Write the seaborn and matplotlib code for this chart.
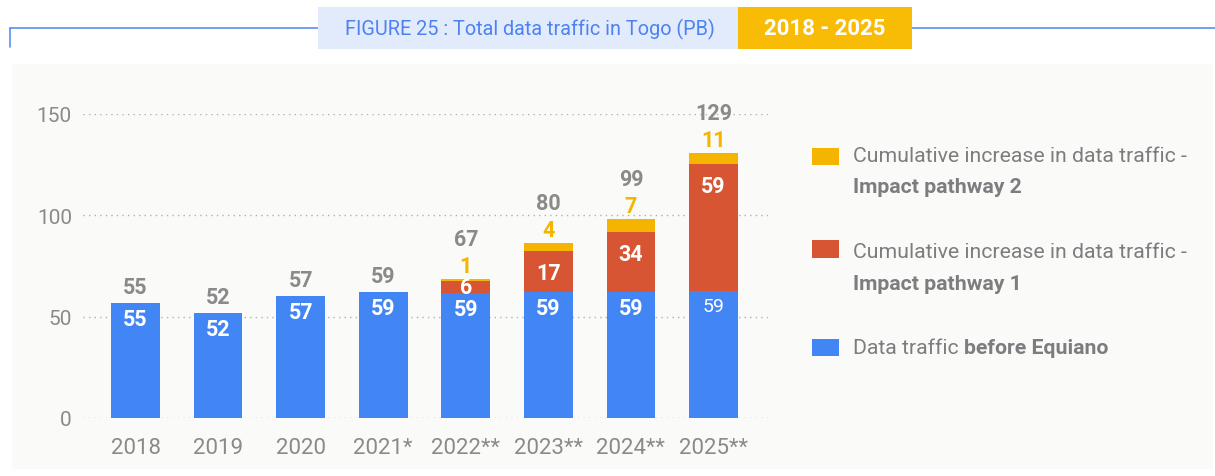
import matplotlib
matplotlib.use("Agg")
import matplotlib.pyplot as plt
import seaborn as sns
import pandas as pd
import numpy as np
from matplotlib.patches import Rectangle
from matplotlib.lines import Line2D

# ---------------- data ----------------
years = ["2018", "2019", "2020", "2021*", "2022**", "2023**", "2024**", "2025**"]
# segment heights as drawn
base_heights = [56.7, 51.8, 60.2, 62.2, 61.8, 62.2, 62.2, 62.8]
p1_heights = [0, 0, 0, 0, 5.8, 20.2, 29.6, 62.5]
p2_heights = [0, 0, 0, 0, 1.0, 3.9, 6.4, 5.4]
# printed value labels
base_labels = [55, 52, 57, 59, 59, 59, 59, 59]
p1_labels = [None, None, None, None, 6, 17, 34, 59]
p2_labels = [None, None, None, None, 1, 4, 7, 11]
total_labels = [55, 52, 57, 59, 67, 80, 99, 129]
y_ticks = [0, 50, 100, 150]

title_text = "FIGURE 25 : Total data traffic in Togo (PB)"
period_text = "2018 - 2025"
legend_items = [
    ("Cumulative increase in data traffic -", "Impact pathway 2"),
    ("Cumulative increase in data traffic -", "Impact pathway 1"),
    ("Data traffic ", "before Equiano"),
]

BLUE = "#4285F4"
RED = "#D85534"
YELLOW = "#F4B400"
GREY = "#8a8a8a"
LEG_GREY = "#7d7d80"

sns.set_theme(style="white")
plt.rcParams["font.family"] = ["Roboto", "DejaVu Sans"]

W, H = 1215, 477
def fx(px): return px / W
def fy(py): return 1 - py / H

fig = plt.figure(figsize=(12.15, 4.77), dpi=100)
fig.patch.set_facecolor("white")

# background panel
fig.add_artist(Rectangle((fx(12), fy(470)), fx(1213) - fx(12), fy(65) - fy(470),
                         transform=fig.transFigure, facecolor="#fafaf8", edgecolor="none", zorder=0))

# header line + boxes
fig.add_artist(Line2D([fx(10), fx(1215)], [fy(29), fy(29)], transform=fig.transFigure,
                      color="#5b8ef2", lw=1.2))
fig.add_artist(Line2D([fx(10), fx(10)], [fy(29), fy(48)], transform=fig.transFigure,
                      color="#5b8ef2", lw=1.2))
fig.add_artist(Rectangle((fx(318), fy(50)), fx(738) - fx(318), fy(8) - fy(50),
                         transform=fig.transFigure, facecolor="#e2ebfc", edgecolor="none", zorder=2))
fig.add_artist(Rectangle((fx(738), fy(50)), fx(912) - fx(738), fy(8) - fy(50),
                         transform=fig.transFigure, facecolor="#f8bb06", edgecolor="none", zorder=2))
fig.text(fx(530), fy(29), title_text, ha="center", va="center", color="#4d82f0",
         fontsize=14.3, zorder=3)
fig.text(fx(825), fy(29), period_text, ha="center", va="center", color="white",
         fontsize=16, fontweight="bold", zorder=3)

# ---------------- axes ----------------
ax = fig.add_axes([fx(83), fy(419), fx(768) - fx(83), fy(115) - fy(419)])
ax.set_facecolor("none")

df = pd.DataFrame({"year": years, "base": base_heights, "p1": p1_heights, "p2": p2_heights})
base = np.array(base_heights)
p1 = np.array(p1_heights)
p2 = np.array(p2_heights)

common = dict(x="year", width=0.59, ax=ax, saturation=1, errorbar=None, linewidth=0,
              order=years, zorder=3)
sns.barplot(data=df, y="base", color=BLUE, **common)
sns.barplot(data=df, y="p1", color=RED, bottom=base, **common)
sns.barplot(data=df, y="p2", color=YELLOW, bottom=base + p1, **common)

ax.set_xlim(-0.636, 7.66)
ax.set_ylim(0, 150)
ax.set_yticks(y_ticks)
ax.set_xlabel("")
ax.set_ylabel("")
for s in ax.spines.values():
    s.set_visible(False)
ax.grid(axis="y", linestyle=(0, (1, 3)), color="#b0b0b0", lw=1)
ax.grid(axis="x", visible=False)
ax.set_axisbelow(True)
ax.tick_params(axis="x", length=0, pad=13.5, labelsize=16, labelcolor=GREY)
ax.tick_params(axis="y", length=0, pad=8, labelsize=15, labelcolor=GREY)

PT = 72 / 100  # points per pixel
ppu = (419 - 115) / 150  # pixels per unit

def note(x, y, dy_px, text, color, size=15.5, weight="bold"):
    ax.annotate(text, xy=(x, y), xytext=(0, dy_px * PT), textcoords="offset points",
                ha="center", va="center", color=color, fontsize=size, fontweight=weight,
                annotation_clip=False, zorder=5)

for i in range(len(years)):
    btop = base[i]
    # base label
    if i == len(years) - 1:
        note(i, btop, -15, str(base_labels[i]), "white", size=14, weight="normal")
    else:
        note(i, btop, -16, str(base_labels[i]), "white")
    top = base[i] + p1[i] + p2[i]
    if p1_labels[i] is not None:
        ptop = base[i] + p1[i]
        if p1[i] * ppu > 20:
            note(i, ptop, -22, str(p1_labels[i]), "white")
        else:
            note(i, btop + p1[i] / 2, 0, str(p1_labels[i]), "white")
    if p2_labels[i] is not None:
        note(i, top, 13, str(p2_labels[i]), YELLOW)
        note(i, top, 40, str(total_labels[i]), GREY)
    else:
        note(i, top, 16, str(total_labels[i]), GREY)

# ---------------- legend ----------------
fig.canvas.draw()
renderer = fig.canvas.get_renderer()
leg_colors = [YELLOW, RED, BLUE]
patch_y = [(149, 166), (241, 259), (340, 357)]
text_y = [(157, 188), (252, 285), (349, None)]
LFS = 15.3
for (c, (t0, t1), (l1, l2), (y1, y2)) in zip(leg_colors, patch_y, legend_items, text_y):
    fig.add_artist(Rectangle((fx(812), fy(t1)), fx(839) - fx(812), fy(t0) - fy(t1),
                             transform=fig.transFigure, facecolor=c, edgecolor="none"))
    if y2 is not None:
        fig.text(fx(853), fy(y1), l1, ha="left", va="center", color=LEG_GREY, fontsize=LFS)
        fig.text(fx(853), fy(y2), l2, ha="left", va="center", color=LEG_GREY, fontsize=LFS,
                 fontweight="bold")
    else:
        t = fig.text(fx(853), fy(y1), l1, ha="left", va="center", color=LEG_GREY, fontsize=LFS)
        bb = t.get_window_extent(renderer=renderer)
        fig.text(bb.x1 / W, fy(y1), l2, ha="left", va="center", color=LEG_GREY,
                 fontsize=LFS, fontweight="bold")

fig.savefig("out.png", dpi=100)
